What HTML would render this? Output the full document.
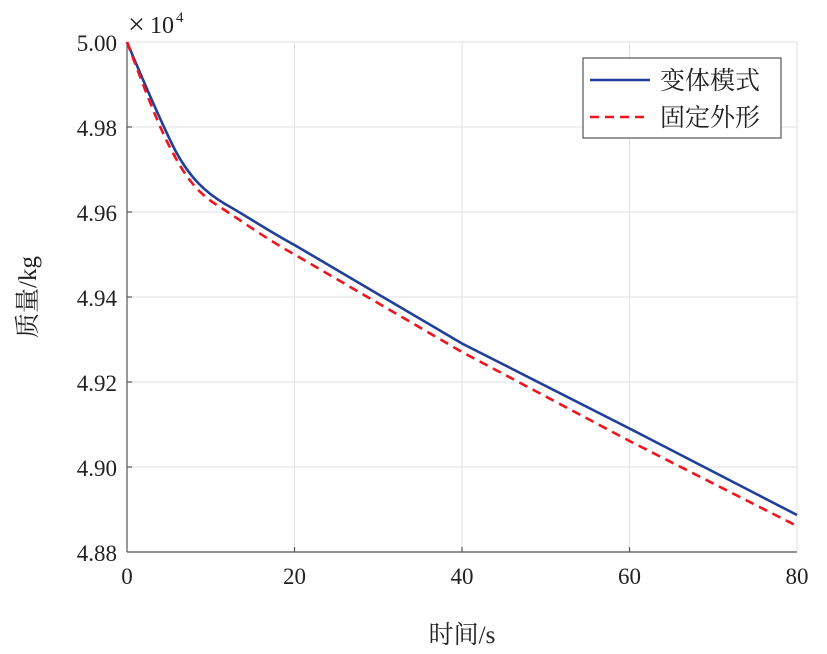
<!DOCTYPE html>
<html><head><meta charset="utf-8"><style>
body{margin:0;background:#fff;}
svg text{font-family:"Liberation Serif","Noto Serif CJK SC",serif;fill:#222;}
</style></head><body>
<svg width="827" height="649" xmlns="http://www.w3.org/2000/svg">
<rect width="827" height="649" fill="#fff"/>
<g stroke="#e2e2e2" stroke-width="1">
<line x1="294.5" y1="42" x2="294.5" y2="552"/><line x1="462" y1="42" x2="462" y2="552"/><line x1="629.5" y1="42" x2="629.5" y2="552"/><line x1="797" y1="42" x2="797" y2="552"/>
<line x1="127" y1="42" x2="797" y2="42"/><line x1="127" y1="127" x2="797" y2="127"/><line x1="127" y1="212" x2="797" y2="212"/><line x1="127" y1="297" x2="797" y2="297"/><line x1="127" y1="382" x2="797" y2="382"/><line x1="127" y1="467" x2="797" y2="467"/>
</g>
<g stroke="#555" stroke-width="1.2">
<line x1="127" y1="42" x2="127" y2="552"/><line x1="127" y1="552" x2="797" y2="552"/>
<line x1="127" y1="127" x2="132" y2="127"/><line x1="127" y1="212" x2="132" y2="212"/><line x1="127" y1="297" x2="132" y2="297"/><line x1="127" y1="382" x2="132" y2="382"/><line x1="127" y1="467" x2="132" y2="467"/>
<line x1="294.5" y1="552" x2="294.5" y2="547"/><line x1="462" y1="552" x2="462" y2="547"/><line x1="629.5" y1="552" x2="629.5" y2="547"/>
</g>
<path d="M127,42 C145,85 160,120 175,150 C190,178 205,192 225,204 C245,215 270,232 294.5,245 L462,343.5 L629.5,428.5 L797,515" fill="none" stroke="#1f3f9a" stroke-width="2.6"/>
<path d="M127,42 C145,90 160,130 173,153 C187,180 200,195 220,207 C240,220 265,238 294.5,254.5 L462,352 L629.5,441 L797,526" fill="none" stroke="#f0141e" stroke-width="2.6" stroke-dasharray="9,6"/>
<g font-size="23" text-anchor="end">
<text x="117" y="51">5.00</text><text x="117" y="136">4.98</text><text x="117" y="221">4.96</text><text x="117" y="306">4.94</text><text x="117" y="391">4.92</text><text x="117" y="476">4.90</text><text x="117" y="561">4.88</text>
</g>
<g font-size="23" text-anchor="middle">
<text x="127" y="584">0</text><text x="294.5" y="584">20</text><text x="462" y="584">40</text><text x="629.5" y="584">60</text><text x="797" y="584">80</text>
</g>
<text x="128" y="34" font-size="30">×</text><text x="150" y="33" font-size="24">10</text><text x="176" y="22" font-size="15">4</text>
<text x="462" y="643" font-size="25" text-anchor="middle">时间/s</text>
<text transform="translate(36,297) rotate(-90)" font-size="25" text-anchor="middle">质量/kg</text>
<rect x="583" y="58" width="198" height="80" fill="#fff" stroke="#333" stroke-width="1"/>
<line x1="590" y1="80" x2="650" y2="80" stroke="#1f3f9a" stroke-width="2.6"/>
<line x1="590" y1="117" x2="650" y2="117" stroke="#f0141e" stroke-width="2.6" stroke-dasharray="9,6"/>
<text x="660" y="89" font-size="25">变体模式</text>
<text x="660" y="126" font-size="25">固定外形</text>
</svg>
</body></html>
